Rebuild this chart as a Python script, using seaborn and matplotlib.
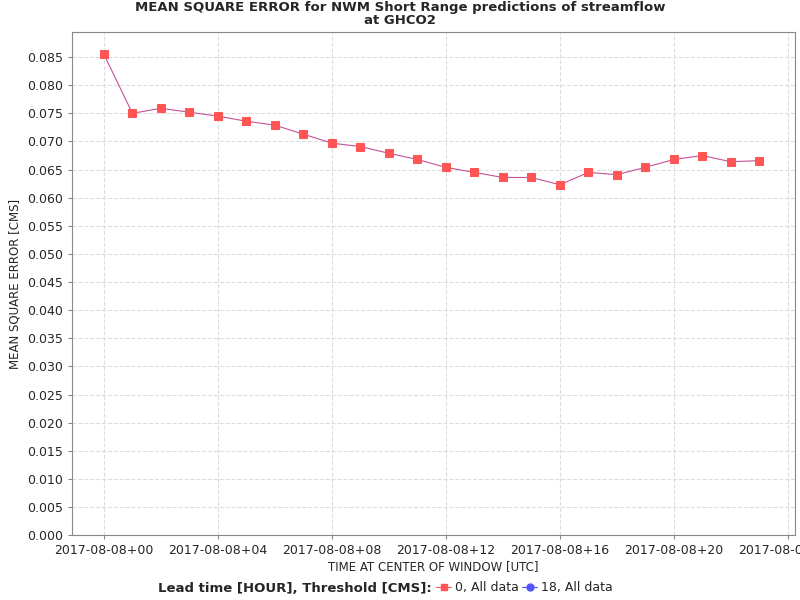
import numpy as np
import pandas as pd
import seaborn as sns
import matplotlib.pyplot as plt
import matplotlib.dates as mdates
from matplotlib.lines import Line2D

# hourly windows on 2017-08-08
hours = list(range(24))
mse = [0.0855, 0.0750, 0.0759, 0.0752, 0.0745, 0.0736, 0.0729, 0.0713,
       0.0697, 0.0691, 0.0679, 0.0668, 0.0654, 0.0645, 0.0636, 0.0636,
       0.0623, 0.0645, 0.0641, 0.0654, 0.0668, 0.0675, 0.0664, 0.0666]

df = pd.DataFrame({
    "time": pd.Timestamp("2017-08-08") + pd.to_timedelta(hours, unit="h"),
    "mse": mse,
})

sns.set_style("white")
plt.rcParams['font.family'] = ['DejaVu Sans']

fig = plt.figure(figsize=(8, 6), dpi=100)
ax = fig.add_axes([0.09, 0.108, 0.904, 0.839])

sns.lineplot(data=df, x="time", y="mse", ax=ax, color="#c8509a", linewidth=0.8,
             marker="s", markersize=5.5, markerfacecolor="#ff5555",
             markeredgecolor="#ff5555")

t0 = pd.Timestamp("2017-08-08")
ax.set_xlim(t0 - pd.Timedelta(hours=1.12), t0 + pd.Timedelta(hours=24.26))
ax.set_ylim(0, 0.0895)
ax.set_yticks(np.arange(0, 0.0851, 0.005))
ax.yaxis.set_major_formatter(plt.FuncFormatter(lambda v, p: f"{v:.3f}"))
ax.xaxis.set_major_locator(mdates.HourLocator(byhour=range(0, 24, 4)))
ax.xaxis.set_major_formatter(mdates.DateFormatter("%Y-%m-%d+%H"))

ax.grid(True, color="#dddddd", linestyle="--", linewidth=0.8)
for s in ax.spines.values():
    s.set_color("#888888")
    s.set_linewidth(0.8)
ax.tick_params(labelsize=9, length=3, left=True, bottom=True, color="#888888")

ax.set_xlabel("TIME AT CENTER OF WINDOW [UTC]", fontsize=8.5, labelpad=2)
ax.set_ylabel("MEAN SQUARE ERROR [CMS]", fontsize=8.5)
fig.suptitle("MEAN SQUARE ERROR for NWM Short Range predictions of streamflow\nat GHCO2",
             fontsize=9.5, fontweight="bold", y=0.998, linespacing=1.0)

fig.text(0.54, 0.02, "Lead time [HOUR], Threshold [CMS]:", ha="right",
         va="center", fontsize=9.5, fontweight="bold")
handles = [
    Line2D([], [], color="#ff5555", marker="s", markersize=5, linewidth=0.8),
    Line2D([], [], color="#5555ff", marker="o", markersize=5, linewidth=0.8),
]
fig.legend(handles, ["0, All data", "18, All data"], ncol=2, frameon=False,
           loc="center left", bbox_to_anchor=(0.545, 0.02), fontsize=9,
           handlelength=1.2, handletextpad=0.3, columnspacing=0.3,
           borderaxespad=0, borderpad=0)

fig.savefig("out.png", dpi=100)
